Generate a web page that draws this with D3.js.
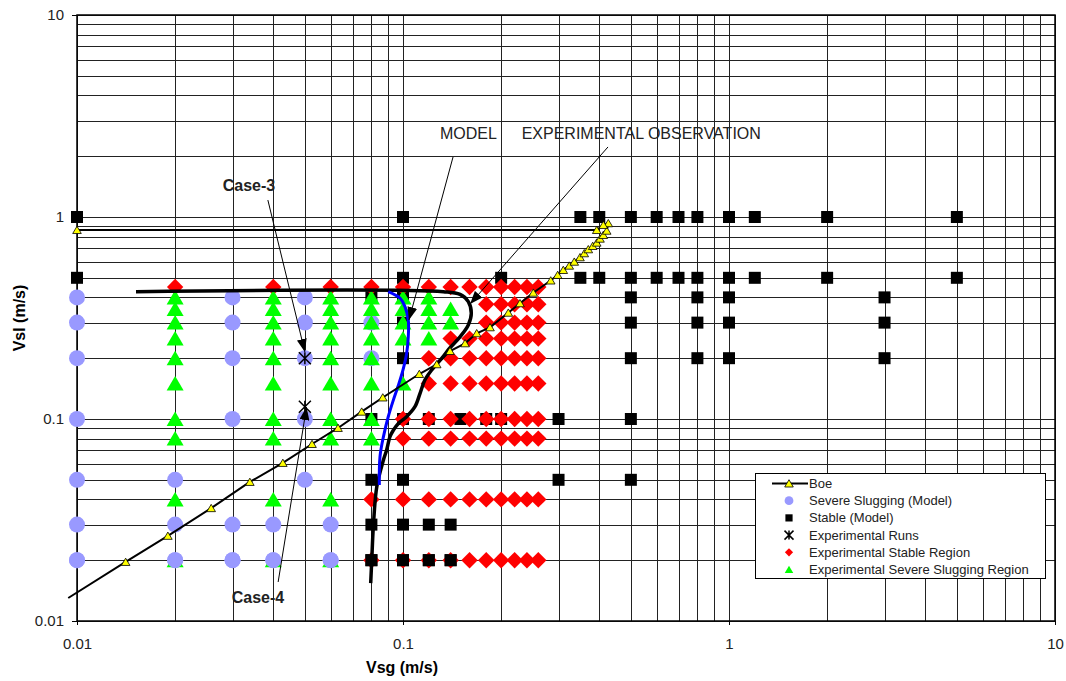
<!DOCTYPE html>
<html>
<head>
<meta charset="utf-8">
<script src="https://cdn.jsdelivr.net/npm/d3@7"></script>
<style>
    body { margin: 0; background: #fff; }
    text { font-family: Arial, "Liberation Sans", sans-serif; }
</style>
</head>
<body>
<div id="chart"></div>
<script>
// values, Vsg / Vsl in m/s
let boe = [[0.0094,0.013],[0.0141,0.0196],[0.019,0.0264],[0.0258,0.0362],[0.0339,0.0488],
    [0.0428,0.0606],[0.0526,0.0752],[0.0632,0.0903],[0.0747,0.1087],[0.0867,0.1278],
    [0.1122,0.167],[0.1269,0.1866],[0.1394,0.2171],[0.155,0.237],[0.1683,0.2657],
    [0.1849,0.2844],[0.2104,0.3358],[0.2285,0.374],[0.251,0.4218],[0.2839,0.4848],
    [0.2982,0.5164],[0.3102,0.5466],[0.3236,0.5741],[0.3353,0.6005],[0.3491,0.6318],
    [0.3598,0.6612],[0.3702,0.692],[0.3819,0.7186],[0.3929,0.7463],[0.4021,0.781],
    [0.4116,0.8146],[0.4216,0.8552],[0.4264,0.931],[0.4116,0.913],[0.3929,0.862],[0.01,0.862]];

let ssModel = [[0.01,0.4],[0.01,0.3],[0.01,0.2],[0.01,0.1],[0.01,0.05],[0.01,0.03],[0.01,0.02],
    [0.02,0.05],[0.02,0.03],[0.02,0.02],
    [0.03,0.4],[0.03,0.3],[0.03,0.2],[0.03,0.1],[0.03,0.03],[0.03,0.02],
    [0.04,0.03],[0.04,0.02],
    [0.05,0.4],[0.05,0.3],[0.05,0.2],[0.05,0.1],[0.05,0.05],
    [0.06,0.03],[0.06,0.02],
    [0.08,0.3],[0.08,0.2]];

// stable (model), one row per Vsl
let stableRows = [
    {vsl: 1,    vsg: [0.01,0.1,0.35,0.4,0.5,0.6,0.7,0.8,1,1.2,2,5]},
    {vsl: 0.5,  vsg: [0.01,0.1,0.2,0.35,0.4,0.5,0.6,0.7,0.8,1,1.2,2,5]},
    {vsl: 0.4,  vsg: [0.08,0.1,0.5,0.8,1,3]},
    {vsl: 0.3,  vsg: [0.1,0.5,0.8,1,3]},
    {vsl: 0.2,  vsg: [0.1,0.5,0.8,1,3]},
    {vsl: 0.1,  vsg: [0.08,0.1,0.12,0.15,0.18,0.2,0.3,0.5]},
    {vsl: 0.05, vsg: [0.08,0.1,0.3,0.5]},
    {vsl: 0.03, vsg: [0.08,0.1,0.12,0.14]},
    {vsl: 0.02, vsg: [0.08,0.1,0.12,0.14]}
];

let expRuns = [[0.05,0.2],[0.05,0.115]];

// experimental stable region, one row per Vsl
let expStableRows = [
    {vsl: 0.45, vsg: [0.02,0.04,0.06,0.08,0.1,0.12,0.14,0.16,0.18,0.2,0.22,0.24,0.26]},
    {vsl: 0.37, vsg: [0.18,0.2,0.22,0.24,0.26]},
    {vsl: 0.3,  vsg: [0.18,0.2,0.22,0.24,0.26]},
    {vsl: 0.25, vsg: [0.14,0.16,0.18,0.2,0.22,0.24,0.26]},
    {vsl: 0.2,  vsg: [0.12,0.14,0.16,0.18,0.2,0.22,0.24,0.26]},
    {vsl: 0.15, vsg: [0.12,0.14,0.16,0.18,0.2,0.22,0.24,0.26]},
    {vsl: 0.1,  vsg: [0.1,0.12,0.14,0.16,0.18,0.2,0.22,0.24,0.26]},
    {vsl: 0.08, vsg: [0.1,0.12,0.14,0.16,0.18,0.2,0.22,0.24,0.26]},
    {vsl: 0.04, vsg: [0.08,0.1,0.12,0.14,0.16,0.18,0.2,0.22,0.24,0.26]},
    {vsl: 0.02, vsg: [0.08,0.1,0.12,0.14,0.16,0.18,0.2,0.22,0.24,0.26]}
];

// experimental severe slugging region, one column per Vsg
let expSlugCols = [
    {vsg: 0.02, vsl: [0.4,0.35,0.3,0.25,0.2,0.15,0.1,0.08,0.04,0.02]},
    {vsg: 0.04, vsl: [0.4,0.35,0.3,0.25,0.2,0.15,0.1,0.08,0.04,0.02]},
    {vsg: 0.06, vsl: [0.4,0.35,0.3,0.25,0.2,0.15,0.1,0.08,0.04,0.02]},
    {vsg: 0.08, vsl: [0.4,0.35,0.3,0.25,0.2,0.15,0.1,0.08]},
    {vsg: 0.1,  vsl: [0.4,0.35,0.3,0.25,0.15]},
    {vsg: 0.12, vsl: [0.4,0.35,0.3,0.25]},
    {vsg: 0.14, vsl: [0.35,0.3]}
];

let modelCurve = [[0.0901,0.427],[0.098,0.396],[0.1014,0.36],[0.1038,0.309],[0.1038,0.255],
    [0.1026,0.211],[0.1,0.175],[0.0968,0.147],[0.0934,0.124],[0.0901,0.1026],
    [0.0871,0.0818],[0.085,0.0651],[0.0846,0.0471]];

let expCurve = [[0.01517,0.427],[0.133,0.427],[0.1496,0.414],[0.1586,0.381],[0.162,0.334],
    [0.1586,0.292],[0.1496,0.255],[0.139,0.224],[0.1314,0.1996],[0.1225,0.175],
    [0.1167,0.156],[0.1128,0.134],[0.1088,0.115],[0.1026,0.1027],[0.0968,0.095],
    [0.0934,0.088],[0.0912,0.0817],[0.0891,0.0703],[0.0871,0.0627],[0.0831,0.0462],
    [0.0811,0.0293],[0.0802,0.02],[0.0796,0.0154]];

let labels = [
    {text: "Case-3", at: [0.0337,1.44], bold: true, anchor: "middle"},
    {text: "Case-4", at: [0.0359,0.0131], bold: true, anchor: "middle"},
    {text: "MODEL", at: [0.1299,2.42], bold: false, anchor: "start"},
    {text: "EXPERIMENTAL OBSERVATION", at: [0.2312,2.42], bold: false, anchor: "start"}
];
let arrows = [
    {from: [0.0385,1.213], to: [0.05,0.2148]},
    {from: [0.0414,0.0156], to: [0.0506,0.1146]},
    {from: [0.1424,1.982], to: [0.1043,0.309]},
    {from: [0.4254,2.222], to: [0.1606,0.371]}
];

let legendNames = ["Boe", "Severe Slugging (Model)", "Stable (Model)", "Experimental Runs",
    "Experimental Stable Region", "Experimental Severe Slugging Region"];

let W = 1066, H = 681;
let x = d3.scaleLog().domain([0.01, 10]).range([77, 1055]);
let y = d3.scaleLog().domain([0.01, 10]).range([621, 15]);

let svg = d3.select("#chart").append("svg").attr("width", W).attr("height", H);
svg.append("rect").attr("width", W).attr("height", H).attr("fill", "#fff");

let defs = svg.append("defs");
defs.append("marker").attr("id", "arrow")
    .attr("viewBox", "0 0 13 10").attr("refX", 13).attr("refY", 5)
    .attr("markerWidth", 13).attr("markerHeight", 10)
    .attr("markerUnits", "userSpaceOnUse").attr("orient", "auto")
    .append("path").attr("d", "M0,0 L13,5 L0,10 Z").attr("fill", "#000");

// gridlines, 1..9 in each decade
let px = v => Math.round(x(v)) + 0.5;
let py = v => Math.round(y(v)) + 0.5;
let grid = svg.append("g");
grid.selectAll(".vg").data(x.ticks()).enter().append("line")
    .attr("x1", px).attr("x2", px).attr("y1", 15).attr("y2", 621)
    .attr("stroke", "#222").attr("stroke-width", 1);
grid.selectAll(".hg").data(y.ticks()).enter().append("line")
    .attr("y1", py).attr("y2", py).attr("x1", 77).attr("x2", 1055)
    .attr("stroke", "#222").attr("stroke-width", 1);

svg.append("rect").attr("x", 77).attr("y", 15).attr("width", 978).attr("height", 606)
    .attr("fill", "none").attr("stroke", "#000").attr("stroke-width", 1.5);

// axes
let fmt = d => d >= 1 ? d3.format("d")(d) : String(d);
let yAxis = svg.append("g").attr("transform", "translate(77,0)")
    .call(d3.axisLeft(y).tickValues([0.01, 0.1, 1, 10]).tickFormat(fmt).tickSize(5).tickPadding(8));
let xAxis = svg.append("g").attr("transform", "translate(0,621)")
    .call(d3.axisBottom(x).tickValues([0.01, 0.1, 1, 10]).tickFormat(fmt).tickSize(4).tickPadding(13));
[xAxis, yAxis].forEach(function(a) {
    a.select(".domain").remove();
    a.selectAll("text").attr("font-size", 15).attr("font-family", "Arial, 'Liberation Sans', sans-serif").attr("fill", "#222");
    a.selectAll("line").attr("stroke", "#000");
});

svg.append("text").attr("x", 402).attr("y", 673).attr("text-anchor", "middle")
    .attr("font-size", 16).attr("font-weight", "bold").text("Vsg (m/s)");
svg.append("text").attr("transform", "translate(25,318) rotate(-90)").attr("text-anchor", "middle")
    .attr("font-size", 16).attr("font-weight", "bold").text("Vsl (m/s)");

// marker shapes
let shapes = {
    circle: "M8,0A8,8 0 1,1 -8,0A8,8 0 1,1 8,0Z",
    square: "M-6,-6H6V6H-6Z",
    diamond: "M0,-8.2L8.2,0L0,8.2L-8.2,0Z",
    triangle: "M0,-7.5L8.5,7L-8.5,7Z",
    small: "M0,-3.8L4.3,3.5L-4.3,3.5Z",
    star: "M-6,-6L6,6M6,-6L-6,6M0,-6V6"
};
let flat = (rows, key, vals) => rows.flatMap(r => r[vals].map(v => key == "vsl" ? [v, r.vsl] : [r.vsg, v]));
let stable = flat(stableRows, "vsl", "vsg");
let expStable = flat(expStableRows, "vsl", "vsg");
let expSlug = flat(expSlugCols, "vsg", "vsl");

function draw(pts, shape, fill, stroke, sw) {
    svg.append("g").selectAll("path").data(pts).enter().append("path")
        .attr("transform", d => "translate(" + x(d[0]) + "," + y(d[1]) + ")")
        .attr("d", shapes[shape])
        .attr("fill", fill).attr("stroke", stroke || "none").attr("stroke-width", sw || 0);
}

draw(ssModel, "circle", "#9999ff");
draw(stable, "square", "#000");
draw(expRuns, "star", "none", "#000", 1.5);
draw(expStable, "diamond", "#ff0000");
draw(expSlug, "triangle", "#00ff00");
// the lowest row sits the other way round in the picture
draw(ssModel.filter(d => d[1] <= 0.02), "circle", "#9999ff");
draw(stable.filter(d => d[1] <= 0.02), "square", "#000");

// curves
let line = d3.line().x(d => x(d[0])).y(d => y(d[1]));
svg.append("path").datum(expCurve)
    .attr("d", line.curve(d3.curveCatmullRom.alpha(0.5)))
    .attr("fill", "none").attr("stroke", "#000").attr("stroke-width", 3.5);
svg.append("path").datum(modelCurve)
    .attr("d", line.curve(d3.curveCatmullRom.alpha(0.5)))
    .attr("fill", "none").attr("stroke", "#0000ff").attr("stroke-width", 3);
svg.append("path").datum(boe)
    .attr("d", d3.line().x(d => x(d[0])).y(d => y(d[1])))
    .attr("fill", "none").attr("stroke", "#000").attr("stroke-width", 2);
draw(boe.slice(1), "small", "#ffff00", "#000", 0.8);

// annotations
svg.append("g").selectAll("line").data(arrows).enter().append("line")
    .attr("x1", d => x(d.from[0])).attr("y1", d => y(d.from[1]))
    .attr("x2", d => x(d.to[0])).attr("y2", d => y(d.to[1]))
    .attr("stroke", "#000").attr("stroke-width", 1).attr("marker-end", "url(#arrow)");
svg.append("g").selectAll("text").data(labels).enter().append("text")
    .attr("x", d => x(d.at[0])).attr("y", d => y(d.at[1]))
    .attr("dy", d => d.bold ? "0.35em" : 0)
    .attr("text-anchor", d => d.anchor)
    .attr("font-size", 16).attr("font-weight", d => d.bold ? "bold" : "normal")
    .attr("fill", "#222").text(d => d.text);

// legend
let lg = svg.append("g");
lg.append("rect").attr("x", 755.5).attr("y", 473.5).attr("width", 290).attr("height", 105)
    .attr("fill", "#fff").attr("stroke", "#000").attr("stroke-width", 1);
let ly = i => 483.5 + i * 17.2;
lg.append("line").attr("x1", 772).attr("x2", 808).attr("y1", ly(0)).attr("y2", ly(0))
    .attr("stroke", "#000").attr("stroke-width", 2);
let legShapes = [["small", "#ffff00", "#000", 0.8], ["circle", "#9999ff"], ["square", "#000"],
    ["star", "none", "#000", 1.5], ["diamond", "#ff0000"], ["triangle", "#00ff00"]];
let legScale = [1, 0.55, 0.6, 0.75, 0.5, 0.5];
lg.selectAll(".lm").data(legShapes).enter().append("path")
    .attr("transform", (d, i) => "translate(789," + ly(i) + ") scale(" + legScale[i] + ")")
    .attr("d", d => shapes[d[0]])
    .attr("fill", d => d[1]).attr("stroke", d => d[2] || "none")
    .attr("stroke-width", (d, i) => (d[3] || 0) / legScale[i]);
lg.selectAll(".lt").data(legendNames).enter().append("text")
    .attr("x", 809).attr("y", (d, i) => ly(i)).attr("dy", "0.35em")
    .attr("font-size", 13).attr("fill", "#222").text(d => d);
</script>
</body>
</html>
